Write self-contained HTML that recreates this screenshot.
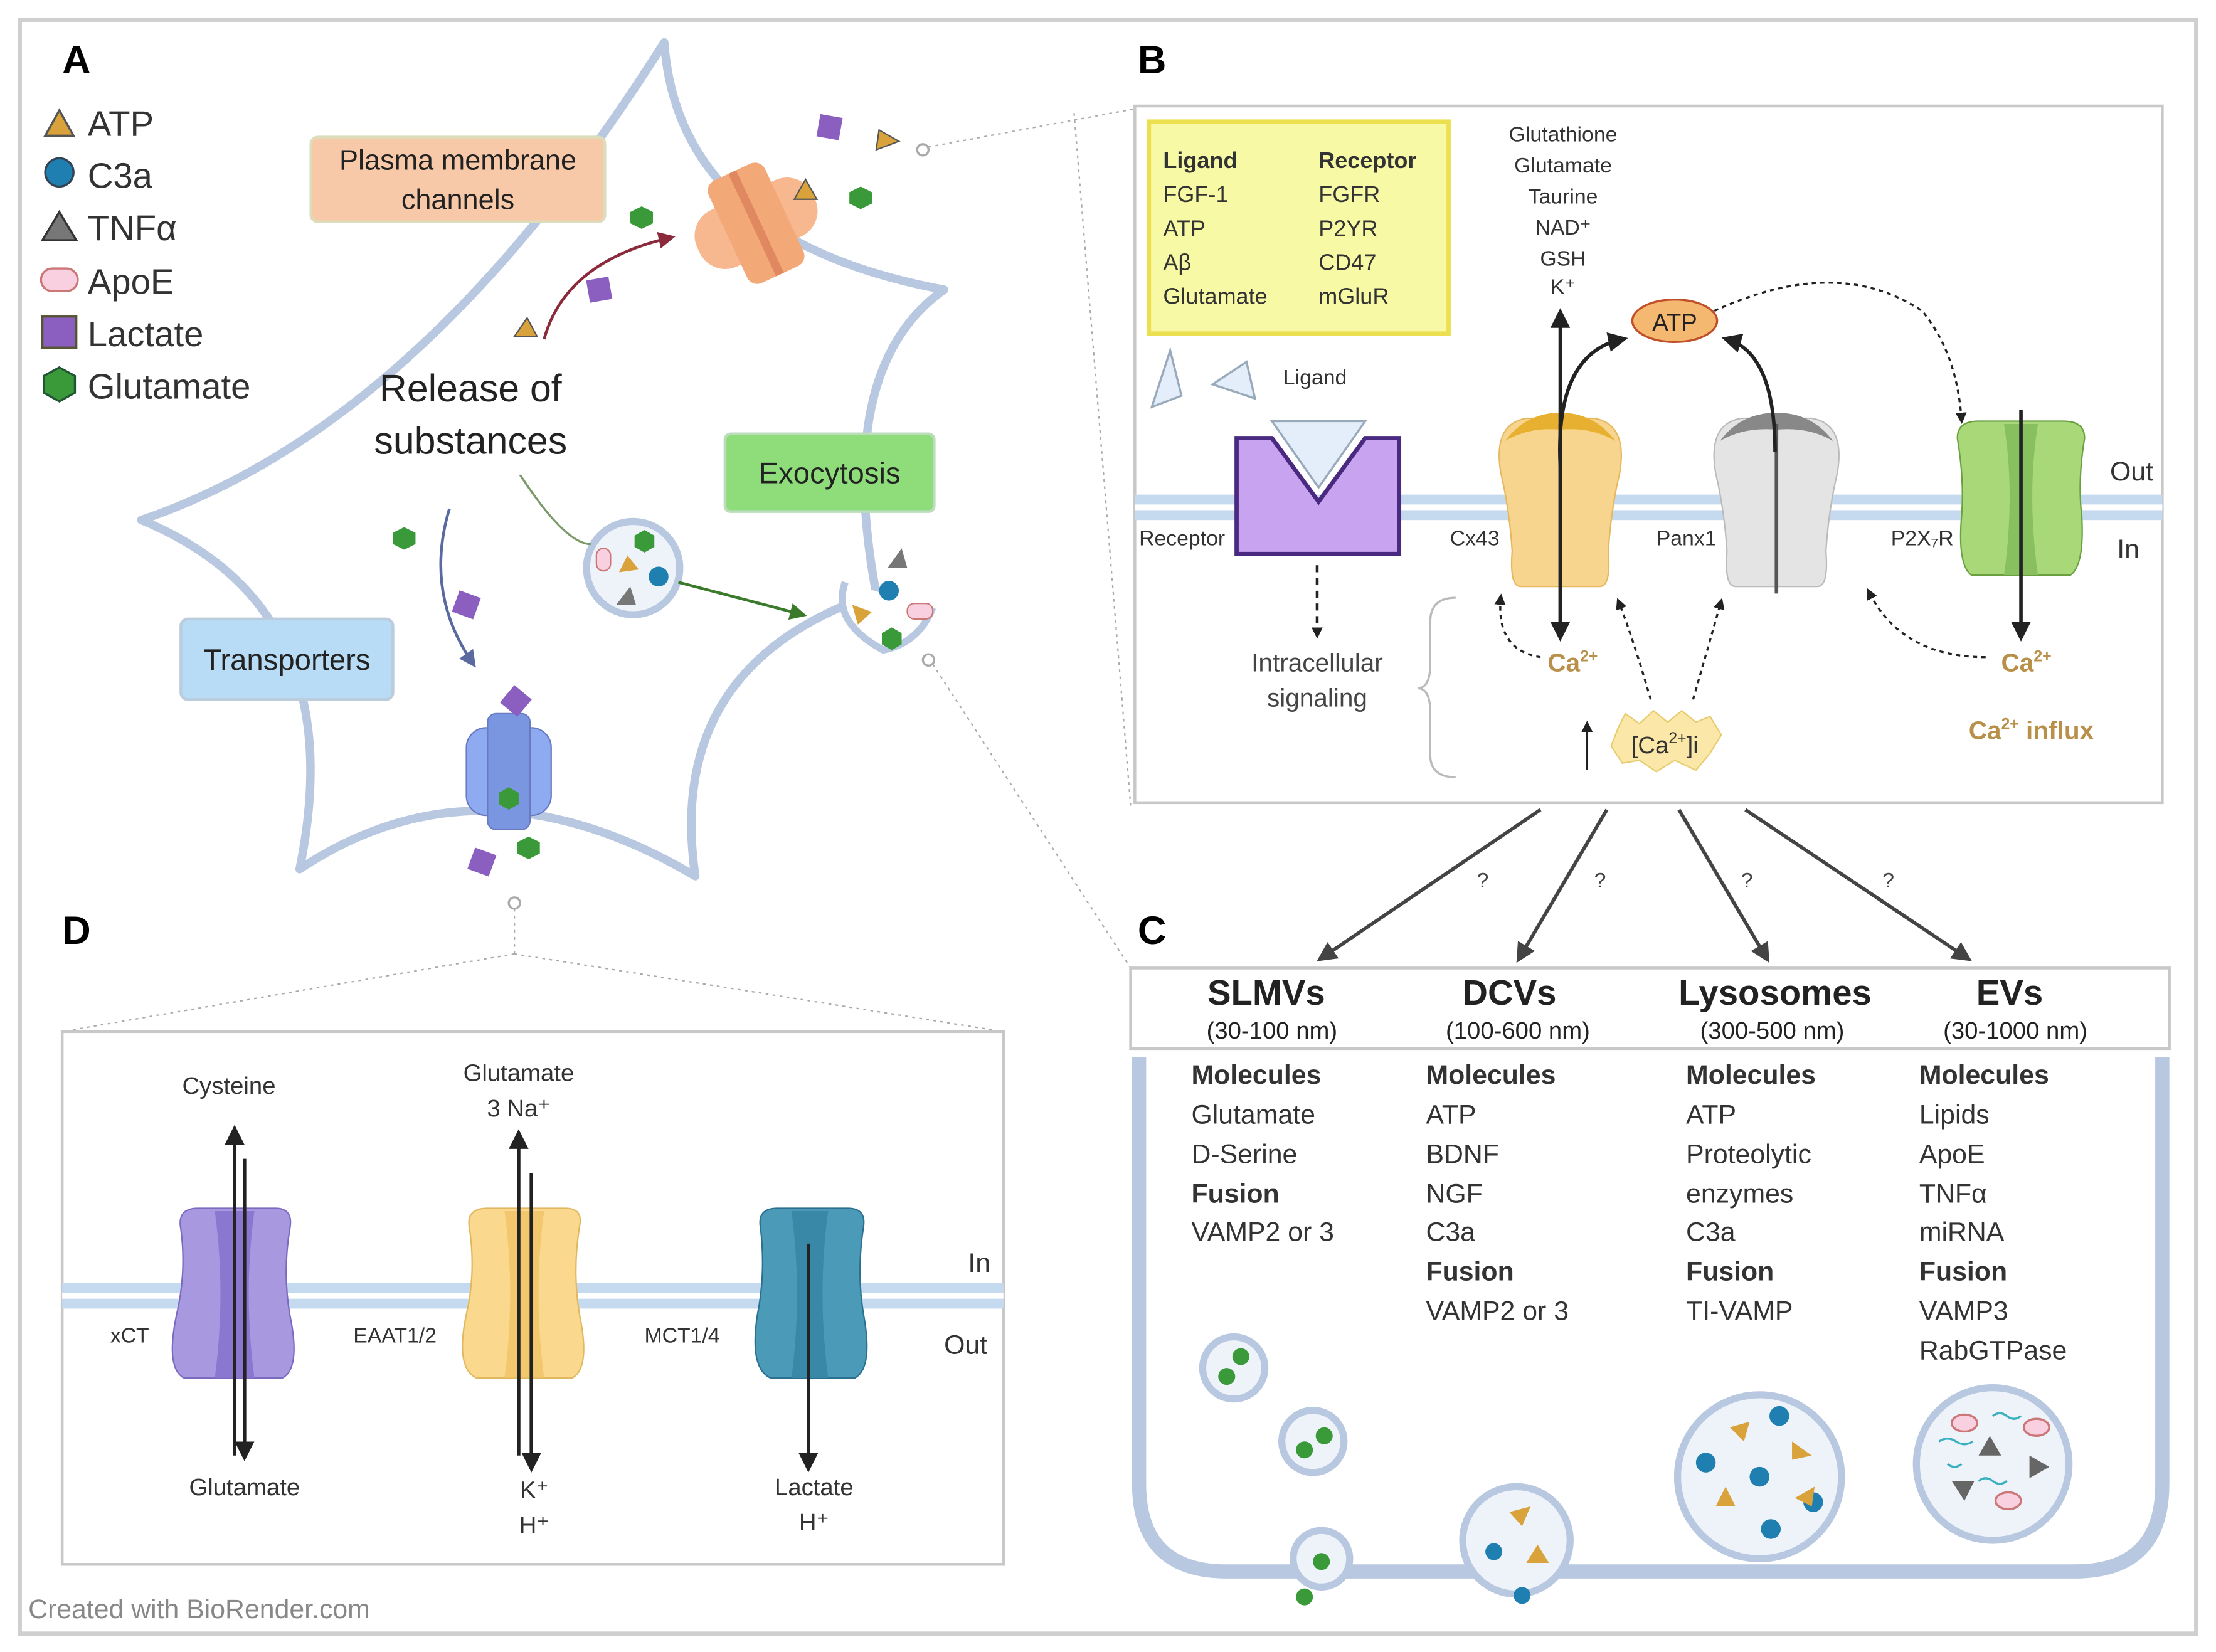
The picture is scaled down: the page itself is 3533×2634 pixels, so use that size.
<!DOCTYPE html>
<html><head><meta charset="utf-8"><style>html,body{margin:0;padding:0;background:#fff}svg{display:block}text{font-family:"Liberation Sans",sans-serif}</style></head><body>
<svg width="3533" height="2634" viewBox="0 0 1568 1169" xmlns="http://www.w3.org/2000/svg">
<defs>
<marker id="ah" markerWidth="8" markerHeight="8" refX="6" refY="4" orient="auto" markerUnits="userSpaceOnUse"><path d="M0,0 L8,4 L0,8 z" fill="#222"/></marker>
<marker id="ahb" markerWidth="14" markerHeight="14" refX="10" refY="7" orient="auto" markerUnits="userSpaceOnUse"><path d="M0,0 L14,7 L0,14 z" fill="#222"/></marker>
<marker id="ahg" markerWidth="12" markerHeight="12" refX="9" refY="6" orient="auto" markerUnits="userSpaceOnUse"><path d="M0,0 L12,6 L0,12 z" fill="#3a7a2a"/></marker>
<marker id="ahr" markerWidth="12" markerHeight="12" refX="9" refY="6" orient="auto" markerUnits="userSpaceOnUse"><path d="M0,0 L12,6 L0,12 z" fill="#8a2a3a"/></marker>
<marker id="ahp" markerWidth="12" markerHeight="12" refX="9" refY="6" orient="auto" markerUnits="userSpaceOnUse"><path d="M0,0 L12,6 L0,12 z" fill="#5a6aa0"/></marker>
<marker id="ahs" markerWidth="14" markerHeight="14" refX="10" refY="7" orient="auto" markerUnits="userSpaceOnUse"><path d="M0,0 L14,7 L0,14 z" fill="#444"/></marker>
</defs>
<rect x="0" y="0" width="1568" height="1169" fill="#fff"/>
<rect x="14" y="14" width="1540" height="1142" fill="none" stroke="#cfcfcf" stroke-width="3"/>

<!-- Panel A -->
<text x="44" y="52" font-size="28" font-weight="bold">A</text>
<polygon points="32,96 52,96 42,78" fill="#d9a23a" stroke="#555" stroke-width="1.5"/>
<text x="62" y="96" font-size="25" fill="#333">ATP</text>
<circle cx="42" cy="122" r="10" fill="#1f7fb0" stroke="#345" stroke-width="1.5"/>
<text x="62" y="133" font-size="25" fill="#333">C3a</text>
<polygon points="30,170 54,170 42,150" fill="#777" stroke="#333" stroke-width="1.5"/>
<text x="62" y="170" font-size="25" fill="#333">TNFα</text>
<rect x="29" y="190" width="26" height="16" rx="8" fill="#f8d0e0" stroke="#c77" stroke-width="1.5"/>
<text x="62" y="208" font-size="25" fill="#333">ApoE</text>
<rect x="30" y="224" width="24" height="22" fill="#8a5fc0" stroke="#553" stroke-width="1.5"/>
<text x="62" y="245" font-size="25" fill="#333">Lactate</text>
<polygon points="42,260 53,266 53,278 42,284 31,278 31,266" fill="#3a9a3a" stroke="#253" stroke-width="1.5"/>
<text x="62" y="282" font-size="25" fill="#333">Glutamate</text>

<path d="M100,368 Q300,300 470,30 Q480,170 668,205 Q590,260 620,420 Q470,470 492,620 Q340,530 212,615 Q250,430 100,368 Z" fill="none" stroke="#b8c8e0" stroke-width="6" stroke-linejoin="round"/>

<rect x="220" y="97" width="208" height="60" rx="5" fill="#f7c9a8" stroke="#ddb" stroke-width="2"/>
<text x="324" y="120" font-size="20" text-anchor="middle" fill="#222">Plasma membrane</text>
<text x="324" y="148" font-size="20" text-anchor="middle" fill="#222">channels</text>
<text x="333" y="284" font-size="27" text-anchor="middle" fill="#222">Release of</text>
<text x="333" y="321" font-size="27" text-anchor="middle" fill="#222">substances</text>
<rect x="513" y="307" width="148" height="55" rx="4" fill="#8fdc7a" stroke="#bdb" stroke-width="2"/>
<text x="587" y="342" font-size="21" text-anchor="middle" fill="#222">Exocytosis</text>
<rect x="128" y="438" width="150" height="57" rx="5" fill="#b8dcf5" stroke="#bcd" stroke-width="2"/>
<text x="203" y="474" font-size="21" text-anchor="middle" fill="#222">Transporters</text>

<!-- channel top -->
<g transform="translate(535,158) rotate(-25)">
<rect x="-45" y="-22" width="90" height="44" rx="20" fill="#f7b890"/>
<rect x="-22" y="-40" width="44" height="80" rx="8" fill="#f3a878"/>
<rect x="-3" y="-40" width="6" height="80" fill="#e08860"/>
</g>
<polygon points="562,141 578,141 570,127" fill="#d9a23a" stroke="#555"/>
<polygon points="454,146 462,150 462,158 454,162 446,158 446,150" fill="#3a9a3a"/>
<polygon points="609,132 617,136 617,144 609,148 601,144 601,136" fill="#3a9a3a"/>
<rect x="579" y="82" width="16" height="16" fill="#8a5fc0" transform="rotate(10 587 90)"/>
<polygon points="620,106 636,100 622,92" fill="#d9a23a" stroke="#555"/>
<rect x="416" y="197" width="16" height="16" fill="#8a5fc0" transform="rotate(-10 424 205)"/>
<polygon points="364,238 380,238 373,225" fill="#d9a23a" stroke="#555"/>
<path d="M385,240 Q400,185 475,168" fill="none" stroke="#8a2a3a" stroke-width="2" marker-end="url(#ahr)"/>
<circle cx="653" cy="106" r="4" fill="#fff" stroke="#aaa" stroke-width="1.5"/>
<line x1="657" y1="104" x2="803" y2="77" stroke="#aaa" stroke-dasharray="2,3"/>

<!-- vesicle -->
<circle cx="448" cy="402" r="33" fill="#eef3fa" stroke="#b8c8e0" stroke-width="5"/>
<polygon points="456,375 463,379 463,387 456,391 449,387 449,379" fill="#3a9a3a"/>
<rect x="422" y="388" width="10" height="16" rx="5" fill="#f8d0e0" stroke="#c77"/>
<polygon points="438,405 452,403 444,393" fill="#d9a23a"/>
<circle cx="466" cy="408" r="7" fill="#1f7fb0"/>
<polygon points="436,428 450,428 446,415" fill="#777"/>
<path d="M368,336 Q400,385 418,385" fill="none" stroke="#7a9a6a" stroke-width="1.5"/>
<path d="M480,412 L568,435" fill="none" stroke="#3a7a2a" stroke-width="2" marker-end="url(#ahg)"/>
<path d="M318,360 Q300,420 335,470" fill="none" stroke="#5a6aa0" stroke-width="2" marker-end="url(#ahp)"/>
<polygon points="286,373 294,377 294,385 286,389 278,385 278,377" fill="#3a9a3a"/>
<rect x="322" y="420" width="16" height="16" fill="#8a5fc0" transform="rotate(20 330 428)"/>
<!-- exocytosis site -->
<path d="M598,412 Q588,440 625,460 Q650,455 660,430" fill="#fff" stroke="#b8c8e0" stroke-width="5"/>
<polygon points="628,402 642,402 638,388" fill="#777"/>
<circle cx="629" cy="418" r="7" fill="#1f7fb0"/>
<rect x="642" y="427" width="18" height="11" rx="5" fill="#f8d0e0" stroke="#c77"/>
<polygon points="603,428 617,433 607,442" fill="#d9a23a"/>
<polygon points="631,444 638,448 638,456 631,460 624,456 624,448" fill="#3a9a3a"/>
<circle cx="657" cy="467" r="4" fill="#fff" stroke="#aaa" stroke-width="1.5"/>
<line x1="660" y1="470" x2="800" y2="685" stroke="#aaa" stroke-dasharray="2,3"/>
<line x1="760" y1="80" x2="800" y2="570" stroke="#aaa" stroke-dasharray="2,3"/>
<!-- transporter bottom -->
<rect x="330" y="515" width="60" height="62" rx="14" fill="#8eaaf0" stroke="#6a7ac0"/>
<rect x="345" y="505" width="30" height="82" rx="6" fill="#7a96e0" stroke="#6a7ac0"/>
<rect x="357" y="488" width="16" height="16" fill="#8a5fc0" transform="rotate(40 365 496)"/>
<polygon points="360,557 367,561 367,569 360,573 353,569 353,561" fill="#3a9a3a"/>
<rect x="333" y="602" width="16" height="16" fill="#8a5fc0" transform="rotate(20 341 610)"/>
<polygon points="374,592 382,596 382,604 374,608 366,604 366,596" fill="#3a9a3a"/>
<circle cx="364" cy="639" r="4" fill="#fff" stroke="#aaa" stroke-width="1.5"/>
<line x1="364" y1="643" x2="364" y2="675" stroke="#aaa" stroke-dasharray="2,3"/>
<line x1="364" y1="675" x2="44" y2="730" stroke="#aaa" stroke-dasharray="2,3"/>
<line x1="364" y1="675" x2="710" y2="730" stroke="#aaa" stroke-dasharray="2,3"/>

<!-- Panel B -->
<text x="805" y="52" font-size="28" font-weight="bold">B</text>
<rect x="803" y="75" width="727" height="493" fill="#fff" stroke="#c8c8c8" stroke-width="2"/>
<rect x="803" y="350" width="727" height="18" fill="#c5d9ef"/>
<rect x="803" y="357" width="727" height="4" fill="#fff"/>
<rect x="813" y="86" width="212" height="150" fill="#f7f9a4" stroke="#ece050" stroke-width="3"/>
<g font-size="16" fill="#333">
<text x="823" y="119" font-weight="bold">Ligand</text><text x="933" y="119" font-weight="bold">Receptor</text>
<text x="823" y="143">FGF-1</text><text x="933" y="143">FGFR</text>
<text x="823" y="167">ATP</text><text x="933" y="167">P2YR</text>
<text x="823" y="191">Aβ</text><text x="933" y="191">CD47</text>
<text x="823" y="215">Glutamate</text><text x="933" y="215">mGluR</text>
</g>
<g font-size="15" fill="#333" text-anchor="middle">
<text x="1106" y="100">Glutathione</text><text x="1106" y="122">Glutamate</text><text x="1106" y="144">Taurine</text>
<text x="1106" y="166">NAD⁺</text><text x="1106" y="188">GSH</text><text x="1106" y="208">K⁺</text>
</g>
<polygon points="815,288 836,280 828,248" fill="#e4eefa" stroke="#9ab" stroke-width="1.5"/>
<polygon points="858,272 888,282 882,256" fill="#e4eefa" stroke="#9ab" stroke-width="1.5"/>
<text x="908" y="272" font-size="15" fill="#333">Ligand</text>
<path d="M875,310 L900,310 L933,355 L966,310 L990,310 L990,392 L875,392 Z" fill="#c8a4f0" stroke="#4a2a80" stroke-width="3"/>
<polygon points="900,298 966,298 933,345" fill="#e4eefa" stroke="#9ab" stroke-width="1.5"/>
<text x="806" y="386" font-size="15" fill="#333">Receptor</text>
<line x1="932" y1="400" x2="932" y2="450" stroke="#222" stroke-width="2" stroke-dasharray="5,4" marker-end="url(#ah)"/>
<text x="932" y="475" font-size="18" text-anchor="middle" fill="#444">Intracellular</text>
<text x="932" y="500" font-size="18" text-anchor="middle" fill="#444">signaling</text>
<path d="M1030,423 Q1012,423 1012,440 L1012,470 Q1012,487 1003,487 Q1012,487 1012,504 L1012,534 Q1012,550 1030,550" fill="none" stroke="#bbb" stroke-width="1.5"/>
<!-- Cx43 -->
<path d="M1062,335 Q1056,300 1080,296 L1128,296 Q1152,300 1146,335 Q1140,360 1138,390 Q1140,415 1132,415 L1076,415 Q1068,415 1070,390 Q1068,360 1062,335 Z" fill="#f8d58e" stroke="#e6b860"/>
<path d="M1065,312 Q1080,292 1104,292 Q1128,292 1143,312 Q1126,302 1104,304 Q1082,302 1065,312 Z" fill="#e8b030"/>
<line x1="1104" y1="296" x2="1104" y2="415" stroke="#e6b860"/>
<text x="1026" y="386" font-size="15" fill="#333">Cx43</text>
<line x1="1104" y1="450" x2="1104" y2="222" stroke="#222" stroke-width="2.5" marker-end="url(#ahb)"/>
<line x1="1104" y1="300" x2="1104" y2="450" stroke="#222" stroke-width="2.5" marker-end="url(#ahb)"/>
<path d="M1104,330 Q1100,250 1148,240" fill="none" stroke="#222" stroke-width="2.5" marker-end="url(#ahb)"/>
<!-- Panx1 -->
<path d="M1214,335 Q1208,300 1232,296 L1282,296 Q1306,300 1300,335 Q1294,360 1292,390 Q1294,415 1286,415 L1228,415 Q1220,415 1222,390 Q1220,360 1214,335 Z" fill="#e4e4e4" stroke="#bbb"/>
<path d="M1217,312 Q1232,292 1257,292 Q1282,292 1297,312 Q1280,302 1257,304 Q1234,302 1217,312 Z" fill="#888"/>
<line x1="1257" y1="300" x2="1257" y2="420" stroke="#555" stroke-width="2.5"/>
<path d="M1256,320 Q1256,250 1222,240" fill="none" stroke="#222" stroke-width="2.5" marker-end="url(#ahb)"/>
<text x="1172" y="386" font-size="15" fill="#333">Panx1</text>
<ellipse cx="1185" cy="227" rx="30" ry="15" fill="#f5b870" stroke="#c0502a" stroke-width="1.5"/>
<text x="1185" y="234" font-size="17" text-anchor="middle" fill="#222">ATP</text>
<path d="M1213,220 Q1300,180 1360,220 Q1385,250 1388,298" fill="none" stroke="#222" stroke-width="1.5" stroke-dasharray="3,3" marker-end="url(#ah)"/>
<!-- P2X7R -->
<path d="M1385,310 Q1385,298 1400,298 L1460,298 Q1475,298 1475,310 Q1470,340 1473,365 Q1475,400 1465,407 L1395,407 Q1385,400 1388,365 Q1390,340 1385,310 Z" fill="#a8d878" stroke="#6aa040"/>
<path d="M1418,300 Q1426,350 1418,407 L1442,407 Q1434,350 1442,300 Z" fill="#88c060"/>
<text x="1338" y="386" font-size="15" fill="#333">P2X₇R</text>
<line x1="1430" y1="290" x2="1430" y2="450" stroke="#222" stroke-width="2.5" marker-end="url(#ahb)"/>
<text x="1493" y="340" font-size="19" fill="#333">Out</text>
<text x="1498" y="395" font-size="19" fill="#333">In</text>
<g font-size="18" font-weight="bold" fill="#b8904a">
<text x="1095" y="475">Ca<tspan font-size="11" dy="-7">2+</tspan></text>
<text x="1416" y="475">Ca<tspan font-size="11" dy="-7">2+</tspan></text>
<text x="1393" y="523">Ca<tspan font-size="11" dy="-7">2+</tspan><tspan dy="7"> influx</tspan></text>
</g>
<path d="M1090,465 Q1058,460 1062,422" fill="none" stroke="#222" stroke-width="1.5" stroke-dasharray="3,3" marker-end="url(#ah)"/>
<path d="M1168,495 Q1155,450 1145,425" fill="none" stroke="#222" stroke-width="1.5" stroke-dasharray="3,3" marker-end="url(#ah)"/>
<path d="M1198,495 Q1208,460 1218,425" fill="none" stroke="#222" stroke-width="1.5" stroke-dasharray="3,3" marker-end="url(#ah)"/>
<path d="M1405,465 Q1345,465 1322,418" fill="none" stroke="#222" stroke-width="1.5" stroke-dasharray="3,3" marker-end="url(#ah)"/>
<path d="M1145,515 L1150,505 L1160,512 L1170,503 L1180,511 L1190,503 L1200,511 L1210,507 L1218,520 L1210,533 L1200,545 L1185,538 L1172,546 L1160,538 L1148,540 L1140,528 Z" fill="#fbe7a8" stroke="#e8cc70"/>
<text x="1178" y="533" font-size="17" text-anchor="middle" fill="#333">[Ca<tspan font-size="11" dy="-7">2+</tspan><tspan dy="7">]i</tspan></text>
<line x1="1123" y1="545" x2="1123" y2="512" stroke="#222" stroke-width="1.5" marker-end="url(#ah)"/>

<!-- arrows B->C -->
<g stroke="#444" stroke-width="2.5">
<line x1="1090" y1="573" x2="935" y2="678" marker-end="url(#ahs)"/>
<line x1="1137" y1="573" x2="1075" y2="678" marker-end="url(#ahs)"/>
<line x1="1188" y1="573" x2="1250" y2="678" marker-end="url(#ahs)"/>
<line x1="1235" y1="573" x2="1392" y2="678" marker-end="url(#ahs)"/>
</g>
<g font-size="15" fill="#444"><text x="1045" y="628">?</text><text x="1128" y="628">?</text><text x="1232" y="628">?</text><text x="1332" y="628">?</text></g>

<!-- Panel C -->
<text x="805" y="668" font-size="28" font-weight="bold">C</text>
<rect x="800" y="685" width="735" height="57" fill="#fff" stroke="#c8c8c8" stroke-width="2"/>
<g text-anchor="middle" fill="#222">
<text x="896" y="711" font-size="25" font-weight="bold">SLMVs</text><text x="900" y="735" font-size="17">(30-100 nm)</text>
<text x="1068" y="711" font-size="25" font-weight="bold">DCVs</text><text x="1074" y="735" font-size="17">(100-600 nm)</text>
<text x="1256" y="711" font-size="25" font-weight="bold">Lysosomes</text><text x="1254" y="735" font-size="17">(300-500 nm)</text>
<text x="1422" y="711" font-size="25" font-weight="bold">EVs</text><text x="1426" y="735" font-size="17">(30-1000 nm)</text>
</g>
<path d="M806,748 L806,1050 Q806,1112 868,1112 L1468,1112 Q1530,1112 1530,1050 L1530,748" fill="none" stroke="#b8c8e0" stroke-width="10"/>
<g font-size="19" fill="#333">
<text x="843" y="767" font-weight="bold">Molecules</text><text x="843" y="795">Glutamate</text><text x="843" y="823">D-Serine</text><text x="843" y="851" font-weight="bold">Fusion</text><text x="843" y="878">VAMP2 or 3</text>
<text x="1009" y="767" font-weight="bold">Molecules</text><text x="1009" y="795">ATP</text><text x="1009" y="823">BDNF</text><text x="1009" y="851">NGF</text><text x="1009" y="878">C3a</text><text x="1009" y="906" font-weight="bold">Fusion</text><text x="1009" y="934">VAMP2 or 3</text>
<text x="1193" y="767" font-weight="bold">Molecules</text><text x="1193" y="795">ATP</text><text x="1193" y="823">Proteolytic</text><text x="1193" y="851">enzymes</text><text x="1193" y="878">C3a</text><text x="1193" y="906" font-weight="bold">Fusion</text><text x="1193" y="934">TI-VAMP</text>
<text x="1358" y="767" font-weight="bold">Molecules</text><text x="1358" y="795">Lipids</text><text x="1358" y="823">ApoE</text><text x="1358" y="851">TNFα</text><text x="1358" y="878">miRNA</text><text x="1358" y="906" font-weight="bold">Fusion</text><text x="1358" y="934">VAMP3</text><text x="1358" y="962">RabGTPase</text>
</g>
<!-- SLMV vesicles -->
<g fill="#eef3fa" stroke="#b8c8e0" stroke-width="5">
<circle cx="873" cy="968" r="22"/><circle cx="929" cy="1020" r="22"/><circle cx="935" cy="1103" r="20"/>
<circle cx="1073" cy="1090" r="38"/><circle cx="1245" cy="1045" r="58"/><circle cx="1410" cy="1036" r="54"/>
</g>
<g fill="#3a9a3a">
<circle cx="878" cy="960" r="6"/><circle cx="868" cy="974" r="6"/><circle cx="937" cy="1016" r="6"/><circle cx="923" cy="1026" r="6"/><circle cx="935" cy="1105" r="6"/><circle cx="923" cy="1130" r="6"/>
</g>
<g fill="#1f7fb0"><circle cx="1057" cy="1098" r="6"/><circle cx="1077" cy="1129" r="6"/><circle cx="1259" cy="1002" r="7"/><circle cx="1207" cy="1035" r="7"/><circle cx="1245" cy="1045" r="7"/><circle cx="1283" cy="1063" r="7"/><circle cx="1253" cy="1082" r="7"/></g>
<g fill="#d9a23a"><polygon points="1068,1070 1083,1066 1077,1080"/><polygon points="1080,1106 1096,1106 1088,1093"/><polygon points="1224,1010 1238,1006 1234,1020"/><polygon points="1268,1020 1282,1030 1268,1033"/><polygon points="1214,1066 1228,1066 1221,1052"/><polygon points="1270,1060 1284,1052 1282,1066"/></g>
<g fill="#f8d0e0" stroke="#c77" stroke-width="1.5"><ellipse cx="1390" cy="1007" rx="9" ry="6"/><ellipse cx="1441" cy="1010" rx="9" ry="6"/><ellipse cx="1421" cy="1062" rx="9" ry="6"/></g>
<g fill="#666"><polygon points="1400,1030 1416,1030 1408,1016"/><polygon points="1381,1048 1397,1048 1390,1062"/><polygon points="1436,1030 1450,1038 1436,1046"/></g>
<g stroke="#3ab0c0" stroke-width="1.5" fill="none"><path d="M1372,1020 q6,-4 12,0 t12,0"/><path d="M1410,1002 q5,-4 10,0 t10,0"/><path d="M1400,1048 q5,-4 10,0 t10,0"/><path d="M1378,1036 q5,4 10,0"/></g>

<!-- Panel D -->
<text x="44" y="668" font-size="28" font-weight="bold">D</text>
<rect x="44" y="730" width="666" height="377" fill="#fff" stroke="#c8c8c8" stroke-width="2"/>
<rect x="44" y="908" width="666" height="18" fill="#c5d9ef"/>
<rect x="44" y="915" width="666" height="4" fill="#fff"/>
<text x="685" y="900" font-size="19" fill="#333">In</text>
<text x="668" y="958" font-size="19" fill="#333">Out</text>
<!-- xCT -->
<path d="M128,870 Q125,855 140,855 L195,855 Q208,855 205,870 Q200,900 205,930 Q213,968 200,975 L130,975 Q117,968 125,930 Q132,900 128,870 Z" fill="#a898e0" stroke="#7a6ac0"/>
<path d="M152,857 Q160,915 152,975 L180,975 Q172,915 180,857 Z" fill="#8a78d0"/>
<line x1="166" y1="1030" x2="166" y2="800" stroke="#222" stroke-width="2.5" marker-end="url(#ahb)"/>
<line x1="173" y1="820" x2="173" y2="1030" stroke="#222" stroke-width="2.5" marker-end="url(#ahb)"/>
<text x="162" y="774" font-size="17" text-anchor="middle" fill="#333">Cysteine</text>
<text x="173" y="1058" font-size="17" text-anchor="middle" fill="#333">Glutamate</text>
<text x="78" y="950" font-size="15" fill="#333">xCT</text>
<!-- EAAT -->
<path d="M332,868 Q330,855 345,855 L400,855 Q413,855 410,868 Q405,900 410,930 Q418,968 405,975 L337,975 Q322,968 330,930 Q337,900 332,868 Z" fill="#fad88e" stroke="#e0b860"/>
<path d="M357,857 Q365,915 357,975 L385,975 Q377,915 385,857 Z" fill="#f0c060" opacity="0.7"/>
<line x1="367" y1="1030" x2="367" y2="803" stroke="#222" stroke-width="2.5" marker-end="url(#ahb)"/>
<line x1="376" y1="830" x2="376" y2="1038" stroke="#222" stroke-width="2.5" marker-end="url(#ahb)"/>
<text x="367" y="765" font-size="17" text-anchor="middle" fill="#333">Glutamate</text>
<text x="367" y="790" font-size="17" text-anchor="middle" fill="#333">3 Na⁺</text>
<text x="378" y="1060" font-size="17" text-anchor="middle" fill="#333">K⁺</text>
<text x="378" y="1085" font-size="17" text-anchor="middle" fill="#333">H⁺</text>
<text x="250" y="950" font-size="15" fill="#333">EAAT1/2</text>
<!-- MCT -->
<path d="M538,868 Q536,855 550,855 L600,855 Q613,855 611,868 Q606,900 611,930 Q618,968 605,975 L545,975 Q530,968 536,930 Q542,900 538,868 Z" fill="#4a9ab8" stroke="#2a7090"/>
<path d="M560,857 Q568,915 560,975 L586,975 Q578,915 586,857 Z" fill="#3a88a8"/>
<line x1="572" y1="880" x2="572" y2="1038" stroke="#222" stroke-width="2.5" marker-end="url(#ahb)"/>
<text x="576" y="1058" font-size="17" text-anchor="middle" fill="#333">Lactate</text>
<text x="576" y="1083" font-size="17" text-anchor="middle" fill="#333">H⁺</text>
<text x="456" y="950" font-size="15" fill="#333">MCT1/4</text>

<text x="20" y="1145" font-size="19" fill="#888">Created with BioRender.com</text>
</svg>
</body></html>
